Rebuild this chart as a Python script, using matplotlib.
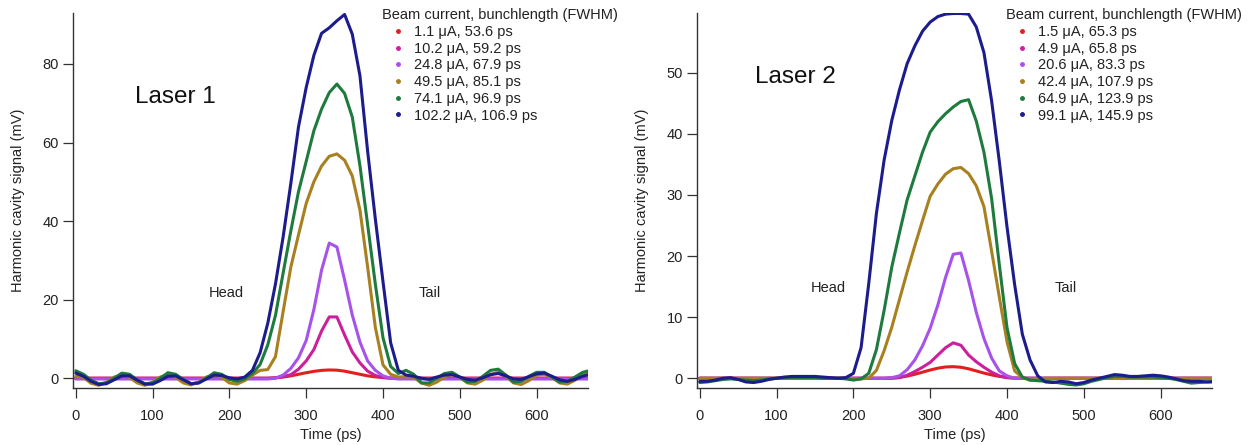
import numpy as np
import matplotlib
matplotlib.use("Agg")
import matplotlib.pyplot as plt
from matplotlib.lines import Line2D

plt.rcParams['font.family'] = ['Liberation Sans', 'DejaVu Sans']

# ------------------------------------------------------------
#  Data (signal in mV, every 10 ps, 0..670 ps)
# ------------------------------------------------------------
time_ps = np.arange(0, 680, 10)

# ---- Laser 1 ----
l1_labels = ["1.1 μA, 53.6 ps", "10.2 μA, 59.2 ps", "24.8 μA, 67.9 ps",
             "49.5 μA, 85.1 ps", "74.1 μA, 96.9 ps", "102.2 μA, 106.9 ps"]
l1_red = [0, 0, 0, 0, 0, 0, 0, 0, 0, 0, 0, 0, 0, 0, 0, 0, 0, 0, 0, 0,
          0, 0, 0, 0, 0, 0,
          0.1, 0.3, 0.6, 1.0, 1.4, 1.75, 2.0, 2.1, 2.05, 1.8, 1.4, 1.0, 0.6,
          0.35, 0.15, 0.05,
          0, 0, 0, 0, 0, 0, 0, 0, 0, 0, 0, 0, 0, 0, 0, 0, 0, 0, 0, 0,
          0, 0, 0, 0, 0, 0]
l1_magenta = [0, 0, 0, 0, 0, 0, 0, 0, 0, 0, 0, 0, 0, 0, 0, 0, 0, 0, 0, 0,
              0, 0, 0, 0, 0, 0,
              0.1, 0.4, 0.9, 2.3, 4.4, 7.3, 12, 15.6, 15.6, 11, 6.7, 3.9,
              1.8, 0.7, 0.2,
              0, 0, 0, 0, 0, 0, 0, 0, 0, 0, 0, 0, 0, 0, 0, 0, 0, 0, 0, 0,
              0, 0, 0, 0, 0, 0, 0]
l1_violet = [-0.2, -0.2, -0.2, -0.2, -0.2, -0.2, -0.2, -0.2, -0.2, -0.2,
             -0.2, -0.2, -0.2, -0.2, -0.2, -0.2, -0.2, -0.2, -0.2, -0.2,
             -0.2, -0.2, -0.2, -0.2, -0.2, -0.2,
             0.0, 0.8, 2.5, 5.2, 9.6, 17.5, 27.5, 34.4, 33.4, 25, 16.1, 9.2,
             4.4, 2.0, 0.6, 0.0,
             -0.2, -0.2, -0.2, -0.2, -0.2, -0.2, -0.2, -0.2, -0.2, -0.2,
             -0.2, -0.2, -0.2, -0.2, -0.2, -0.2, -0.2, -0.2, -0.2, -0.2,
             -0.2, -0.2, -0.2, -0.2, -0.2, -0.2]
l1_brown = [0.5, 0.2, -1.3, -1.8, -1.0, 0.3, 0.8, 0.2, -1.2, -1.8, -1.0, 0.3,
            0.9, 0.2, -1.2, -1.7, -1.0, 0.3, 0.9, 0.2, -1.2, -1.5, -0.6, 0.8,
            2.0, 2.2, 5.5, 17, 28.3, 36.5, 44.5, 50, 54, 56.5, 57.1, 55.5,
            51.5, 42.8, 28.3, 13, 3.4, 1.0, 0.3,
            0.4, 0.2, -1.2, -1.8, -1.0, 0.3, 1.0, 0.2, -1.2, -1.5, -0.5, 1.0,
            1.5, 0.5, -1.2, -1.6, -0.6, 0.8, 1.0, 0.2, -1.2, -1.5, -0.5, 1.0,
            1.5]
l1_green = [1.9, 1.0, -0.5, -1.4, -1.2, 0, 1.3, 1.0, -0.4, -1.4, -1.2, 0,
            1.4, 1.0, -0.3, -1.4, -1.2, 0, 1.4, 1.0, -0.3, -0.8, -0.2,
            1.2, 3.5, 8.5, 16, 26.8, 37.5, 47.5, 55.2, 63, 68.5, 72.7, 74.9,
            72.5, 66.5, 54.1, 39.1, 24, 10.3, 3.0, 1.2,
            2.0, 1.0, -1.2, -1.2, 0, 1.2, 1.5, 0.3, -1.0, -0.8, 0.5, 2.0, 2.3,
            0.8, -1.0, -0.8, 0.5, 1.5, 1.5, 0.3, -1.0, -0.8, 0.3, 1.5, 2.0]
l1_blue = [1.3, 0.5, -0.8, -1.6, -1.4, -0.4, 0.6, 0.6, -0.5, -1.5, -1.5, -0.6,
           0.5, 0.6, -0.4, -1.4, -1.2, -0.2, 0.8, 0.7, 0.1, -0.2, 0.3,
           2.0, 6.5, 14, 24, 36, 49.6, 64, 74, 82.2, 87.8, 89.2, 91, 92.6,
           87.6, 77, 57.8, 40.6, 24.6, 9, 2.0, 0.8,
           0.5, 0, -0.3, 0.3, 0.8, 0.9, 0.3, -0.3, -0.5, 0.1, 0.9, 1.2, 0.6,
           -0.2, -0.3, 0.4, 1.1, 1.3, 0.5, -0.4, -0.8, -0.3, 0.5, 1.0]

# ---- Laser 2 ----
l2_labels = ["1.5 μA, 65.3 ps", "4.9 μA, 65.8 ps", "20.6 μA, 83.3 ps",
             "42.4 μA, 107.9 ps", "64.9 μA, 123.9 ps", "99.1 μA, 145.9 ps"]
l2_red = [0, 0, 0, 0, 0, 0, 0, 0, 0, 0, 0, 0, 0, 0, 0, 0, 0, 0, 0, 0,
          0, 0, 0, 0, 0,
          0.05, 0.15, 0.35, 0.65, 1.0, 1.35, 1.65, 1.85, 1.9, 1.8, 1.55, 1.2,
          0.85, 0.55, 0.3, 0.15, 0.05,
          0, 0, 0, 0, 0, 0, 0, 0, 0, 0, 0, 0, 0, 0, 0, 0, 0, 0, 0, 0,
          0, 0, 0, 0, 0, 0]
l2_magenta = [0, 0, 0, 0, 0, 0, 0, 0, 0, 0, 0, 0, 0, 0, 0, 0, 0, 0, 0, 0,
              0, 0, 0, 0, 0, 0,
              0.1, 0.5, 1.1, 1.8, 2.6, 3.8, 5.0, 5.8, 5.4, 3.8, 2.7, 1.8,
              1.0, 0.4, 0.1,
              0, 0, 0, 0, 0, 0, 0, 0, 0, 0, 0, 0, 0, 0, 0, 0, 0, 0, 0, 0,
              0, 0, 0, 0, 0, 0, 0]
l2_violet = [0, 0, 0, 0, 0, 0, 0, 0, 0, 0, 0, 0, 0, 0, 0, 0, 0, 0, 0, 0,
             0, 0, 0, 0, 0,
             0.1, 0.4, 1.4, 3.0, 5.3, 8.2, 12, 16.5, 20.3, 20.5, 16, 10.8,
             6.5, 3.3, 1.2, 0.4,
             0, 0, 0, 0, 0, 0, 0, 0, 0, 0, 0, 0, 0, 0, 0, 0, 0, 0, 0, 0,
             0, 0, 0, 0, 0, 0, 0]
l2_brown = [0, 0, 0, 0, 0, 0, 0, 0, 0, 0, 0, 0, 0, 0, 0, 0, 0, 0, 0, 0,
            -0.1, -0.1,
            0, 1.3, 4.5, 8.35, 12.9, 17.4, 21.7, 25.8, 29.8, 31.8, 33.4, 34.3,
            34.5, 33.5, 31.5, 28.1, 20.8, 13.3, 6.0, 1.2, 0.1,
            -0.3, -0.2, 0, 0, 0, 0, 0, 0, 0, 0, 0, 0, 0, 0, 0, 0, 0, 0, 0, 0,
            0, 0, 0, 0, 0]
l2_green = [-0.7, -0.6, -0.4, -0.2, -0.1, -0.2, -0.3, -0.4, -0.3, -0.1, 0.0,
            0.1, 0.1, 0.1, 0.1, 0.1, 0.0, 0.0, 0.0, -0.1, -0.3, -0.1,
            0.8, 4.7, 11.1, 18.2, 23.8, 29.2, 33.1, 37, 40.3, 42, 43.3, 44.4,
            45.3, 45.6, 42.1, 37, 29.4, 18.6, 8.3, 2.4, 0.2,
            -0.3, -0.4, -0.5, -0.6, -0.8, -1.0, -1.1, -0.9, -0.5, -0.2, 0.1,
            0.3, 0.3, 0.2, 0.2, 0.2, 0.2, 0.1, 0.0, -0.2, -0.5, -0.8, -0.7,
            -0.6, -0.5]
l2_blue = [-0.5, -0.5, -0.3, 0.0, 0.1, -0.2, -0.6, -0.7, -0.5, -0.2, 0.0, 0.2,
           0.3, 0.3, 0.3, 0.3, 0.2, 0.1, 0.0,
           0.1, 0.8, 5, 15.5, 27, 35.7, 42.2, 47.2, 51.5, 54.4, 56.8, 58.3,
           59.2, 59.6, 59.7, 59.7, 59.6, 57.5, 53.3, 45.4, 35.5, 24.8, 15.3,
           7.2, 3.0, 0.4,
           -0.6, -0.7, -0.5, -0.6, -0.9, -0.7, -0.3, 0.0, 0.3, 0.6, 0.5, 0.3,
           0.3, 0.4, 0.5, 0.4, 0.2, -0.1, -0.4, -0.5, -0.5, -0.6, -0.6]

colors = ['#e31e1e', '#cc1f9c', '#a852ec', '#a8801f', '#1f7a3e', '#1c1c8c']

l1_series = [l1_red, l1_magenta, l1_violet, l1_brown, l1_green, l1_blue]
l2_series = [l2_red, l2_magenta, l2_violet, l2_brown, l2_green, l2_blue]

# ------------------------------------------------------------
#  Figure
# ------------------------------------------------------------
fig = plt.figure(figsize=(12.48, 4.45), dpi=100)
axL = fig.add_axes([0.0585, 0.128, 0.4127, 0.843])
axR = fig.add_axes([0.5585, 0.128, 0.4127, 0.843])

panels = [
    (axL, l1_series, l1_labels, (-2.5, 93), [0, 20, 40, 60, 80],
     "Laser 1", (77, 71.5), (196, 21.6), (461, 21.6)),
    (axR, l2_series, l2_labels, (-1.6, 59.8), [0, 10, 20, 30, 40, 50],
     "Laser 2", (72, 49.3), (167, 14.8), (476, 14.8)),
]

for ax, series, labels, ylim, yticks, name, name_xy, head_xy, tail_xy in panels:
    for y, c in zip(series, colors):
        ax.plot(time_ps, y, '-', color=c, lw=2.2, solid_capstyle='round',
                solid_joinstyle='round')

    ax.set_xlim(-3.6, 667)
    ax.set_ylim(*ylim)
    ax.set_xticks([0, 100, 200, 300, 400, 500, 600])
    ax.set_yticks(yticks)
    for s in ['top', 'right']:
        ax.spines[s].set_visible(False)
    for s in ['left', 'bottom']:
        ax.spines[s].set_color('#333333')
        ax.spines[s].set_linewidth(1.0)
    ax.tick_params(direction='out', length=7, width=0.9, color='#333333',
                   labelsize=10.5, labelcolor='#222222', pad=3)
    ax.tick_params(axis='x', pad=8)

    ax.set_xlabel('Time (ps)', fontsize=10.5, color='#222222', labelpad=4)
    ax.set_ylabel('Harmonic cavity signal (mV)', fontsize=10.5,
                  color='#222222')
    ax.yaxis.set_label_coords(-0.094, 0.5)

    ax.text(name_xy[0], name_xy[1], name, fontsize=17.5, ha='left',
            va='center', color='#111111')
    ax.text(head_xy[0], head_xy[1], 'Head', fontsize=10.5, ha='center',
            va='center', color='#222222')
    ax.text(tail_xy[0], tail_xy[1], 'Tail', fontsize=10.5, ha='center',
            va='center', color='#222222')

    handles = [Line2D([], [], ls='none', marker='o', ms=2.5, color=c)
               for c in colors]
    leg = ax.legend(handles, labels, title='Beam current, bunchlength (FWHM)',
                    loc='upper left', bbox_to_anchor=(0.599, 1.012),
                    frameon=False, fontsize=10.5, title_fontsize=10.5,
                    handlelength=2.2, handletextpad=0.05, labelspacing=0.185,
                    borderpad=0, borderaxespad=0, alignment='left')
    for t in leg.get_texts():
        t.set_color('#222222')
    leg.get_title().set_color('#222222')

fig.savefig('out.png', dpi=100)
